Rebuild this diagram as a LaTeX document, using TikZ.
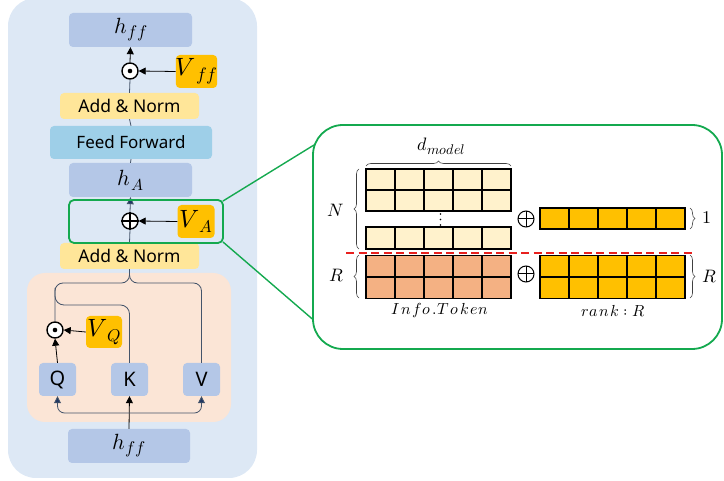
\documentclass[tikz,border=0pt]{standalone}
\usepackage{fontspec}
\usepackage{unicode-math}
\setmathfont{Latin Modern Math}
\newfontfamily\sansfam{Noto Sans}
\usetikzlibrary{arrows.meta,decorations.pathreplacing,calc}
% base symbol, subscript size, drop, subscript
\newcommand\symsub[4]{$#1$\kern0.5pt\raisebox{-#3pt}{\fontsize{#2}{#2}\selectfont$#4$}}
\definecolor{bgblue}{HTML}{DDE8F5}
\definecolor{hblue}{HTML}{B4C7E7}
\definecolor{anyellow}{HTML}{FFE699}
\definecolor{ffblue}{HTML}{9ECFE8}
\definecolor{peach}{HTML}{FBE5D6}
\definecolor{vorange}{HTML}{FFC000}
\definecolor{cream}{HTML}{FFF2CC}
\definecolor{salmon}{HTML}{F4B183}
\definecolor{zgreen}{HTML}{14A94F}
\definecolor{navy}{HTML}{203864}
\definecolor{linec}{HTML}{44546A}
\definecolor{zred}{HTML}{E8201E}
\tikzset{
  box/.style={rectangle, rounded corners=4pt, inner sep=0pt, draw=none},
  hbox/.style={box, fill=hblue, minimum width=123pt, minimum height=34pt, font=\fontsize{22}{24}\selectfont},
  anbox/.style={box, fill=anyellow, minimum width=139pt, minimum height=26pt, font=\sansfam\fontsize{17.5}{18}\selectfont},
  ffbox/.style={box, fill=ffblue, minimum width=162pt, minimum height=33pt, font=\sansfam\fontsize{17}{18}\selectfont},
  vbox/.style={box, fill=vorange, minimum width=37pt, minimum height=33pt, font=\fontsize{25}{27}\selectfont},
  qkv/.style={box, fill=hblue, minimum width=37pt, minimum height=33pt, font=\sansfam\fontsize{20}{21}\selectfont},
  opcircle/.style={circle, draw=black, line width=1.4pt, fill=white, minimum size=16pt, inner sep=0pt},
  conn/.style={draw=linec, line width=0.8pt},
  blackarrow/.style={conn, -{Triangle[length=7pt,width=7pt]}, draw=black},
  navyarrow/.style={conn, -{Triangle[length=7pt,width=7pt,fill=navy]}},
  cell/.style={draw=black, line width=1.2pt},
  brc/.style={draw=black!75, line width=0.6pt, decorate, decoration={brace, amplitude=5pt}},
  mlabel/.style={font=\fontsize{18}{19}\selectfont, inner sep=1pt},
  tlabel/.style={font=\fontsize{16}{17}\selectfont, inner sep=1pt}
}
\begin{document}
\begin{tikzpicture}[x=1pt,y=-1pt]
\useasboundingbox (0,0) rectangle (724,481);
% left background panel
\fill[bgblue, rounded corners=28pt] (8,-2) rectangle (257,478);
\fill[peach, rounded corners=18pt] (27,273) rectangle (231,422);

% nodes
\node[hbox] (hfftop) at (130.5,30) {\symsub{h}{17}{4}{ff}};
\node[opcircle] (odot1) at (130,71) {};
\fill (odot1.center) circle (2.3pt);
\node[vbox] (Vff) at (196.5,71.5) {\symsub{V}{18}{5}{ff}};
\node[anbox] (an1) at (129.5,106) {Add \& Norm};
\node[ffbox] (ff) at (131,142.5) {Feed Forward};
\node[hbox] (hA) at (130.5,180) {\symsub{h}{16}{5}{A}};
\node[opcircle] (oplus1) at (130,221) {};
\draw[line width=1.2pt] (oplus1.north) -- (oplus1.south) (oplus1.west) -- (oplus1.east);
\node[vbox] (VA) at (196,221.5) {\symsub{V}{17}{5}{A}};
\node[anbox] (an2) at (129.5,256) {Add \& Norm};
\node[opcircle] (odotQ) at (55,330) {};
\fill (odotQ.center) circle (2.3pt);
\node[vbox, minimum width=36pt, minimum height=32pt] (VQ) at (104,332) {\symsub{V}{17}{5}{Q}};
\node[qkv] (Q) at (57.5,379.5) {Q};
\node[qkv] (K) at (129.5,379.5) {K};
\node[qkv] (V) at (201.5,379.5) {V};
\node[hbox, minimum width=122pt] (hffbot) at (129,446) {\symsub{h}{17}{4}{ff}};

% connectors in left panel
\draw[blackarrow] (hffbot.north) -- (K.south);
\coordinate (split) at (129.5,413);
\draw[navyarrow, rounded corners=7pt] (split) -| (Q.south);
\draw[navyarrow, rounded corners=7pt] (split) -| (V.south);
\draw[blackarrow] (Q.north) -- (odotQ.south);
\draw[blackarrow] (VQ.west) -- (odotQ.east);
\draw[conn, rounded corners=8pt] (odotQ.north) -- (55,283) -- (an2.south |- 0,283) -- (an2.south);
\draw[conn, rounded corners=8pt] (an2.south) -- (an2.south |- 0,283) -- (V.north |- 0,283) -- (V.north);
\draw[conn, rounded corners=9pt] (55,288) -- (55,305) -- (K.north |- 0,305) -- (K.north);
\draw[conn] (an2.north) -- (oplus1.south);
\draw[navyarrow] (oplus1.north) -- (hA.south);
\draw[blackarrow] (VA.west) -- (oplus1.east);
\draw[conn] (hA.north) -- (ff.south);
\draw[conn] (ff.north) -- (an1.south);
\draw[conn] (an1.north) -- (odot1.south);
\draw[blackarrow] (odot1.north) -- (hfftop.south);
\draw[blackarrow] (Vff.west) -- (odot1.east);

% green zoom box
\draw[zgreen, line width=1.8pt, rounded corners=5pt] (69,200) rectangle (223,243);
\coordinate (gs1) at (223,201);
\coordinate (gs2) at (223,242);
\draw[zgreen, line width=1.8pt, rounded corners=30pt] (313,125) rectangle (722,349);
\coordinate (gb1) at (314,145);
\coordinate (gb2) at (313.5,320);
\draw[zgreen, line width=1.4pt] (gs1) -- (gb1);
\draw[zgreen, line width=1.4pt] (gs2) -- (gb2);

% matrices
\def\cw{29}
\foreach \i in {0,...,4}{
  \foreach \j in {0,1}{
    \draw[cell, fill=cream] (366+\i*\cw,169+\j*21) rectangle ++(\cw,21);
    \draw[cell, fill=salmon] (366+\i*\cw,255.5+\j*21.5) rectangle ++(\cw,21.5);
    \draw[cell, fill=vorange] (540+\i*\cw,255.5+\j*21.5) rectangle ++(\cw,21.5);
  }
  \draw[cell, fill=cream] (366+\i*\cw,227) rectangle ++(\cw,22);
  \draw[cell, fill=vorange] (540+\i*\cw,208) rectangle ++(\cw,21);
}
\foreach \y in {214,219.5,225} \fill (440.5,\y) circle (0.9pt);

% plus symbols
\foreach \y in {219,274}{
  \draw[line width=1pt] (526,\y) circle (8pt);
  \draw[line width=1pt] (518,\y) -- (534,\y) (526,\y-8) -- (526,\y+8);
}

% red dashed
\draw[zred, line width=2pt, dash pattern=on 8pt off 4.5pt] (346,253) -- (695,253);

% braces
\draw[brc] (366,166) -- (511,166);
\node[mlabel] (dm) at (441,146) {\symsub{d}{14}{4}{model}};
\draw[brc] (359,249) -- (359,169);
\node[mlabel, anchor=east] (Nl) at (345,210) {$N$};
\draw[brc] (359,298) -- (359,255);
\node[mlabel, anchor=east] (Rl) at (345,276) {$R$};
\draw[brc] (690,208) -- (690,229);
\node[mlabel, anchor=west] (one) at (701,218) {$1$};
\draw[brc] (690,255) -- (690,298);
\node[mlabel, anchor=west] (Rr) at (701,277) {$R$};
\node[tlabel] (info) at (440,311) {$I\mkern1.5mu n\mkern1.5mu f\mkern1.5mu o\mkern1.5mu .\mkern1.5mu T\mkern1.5mu o\mkern1.5mu k\mkern1.5mu e\mkern1.5mu n$};
\node[tlabel] (rank) at (613,311) {$r\mkern1.5mu a\mkern1.5mu n\mkern1.5mu k : R$};
\end{tikzpicture}
\end{document}
